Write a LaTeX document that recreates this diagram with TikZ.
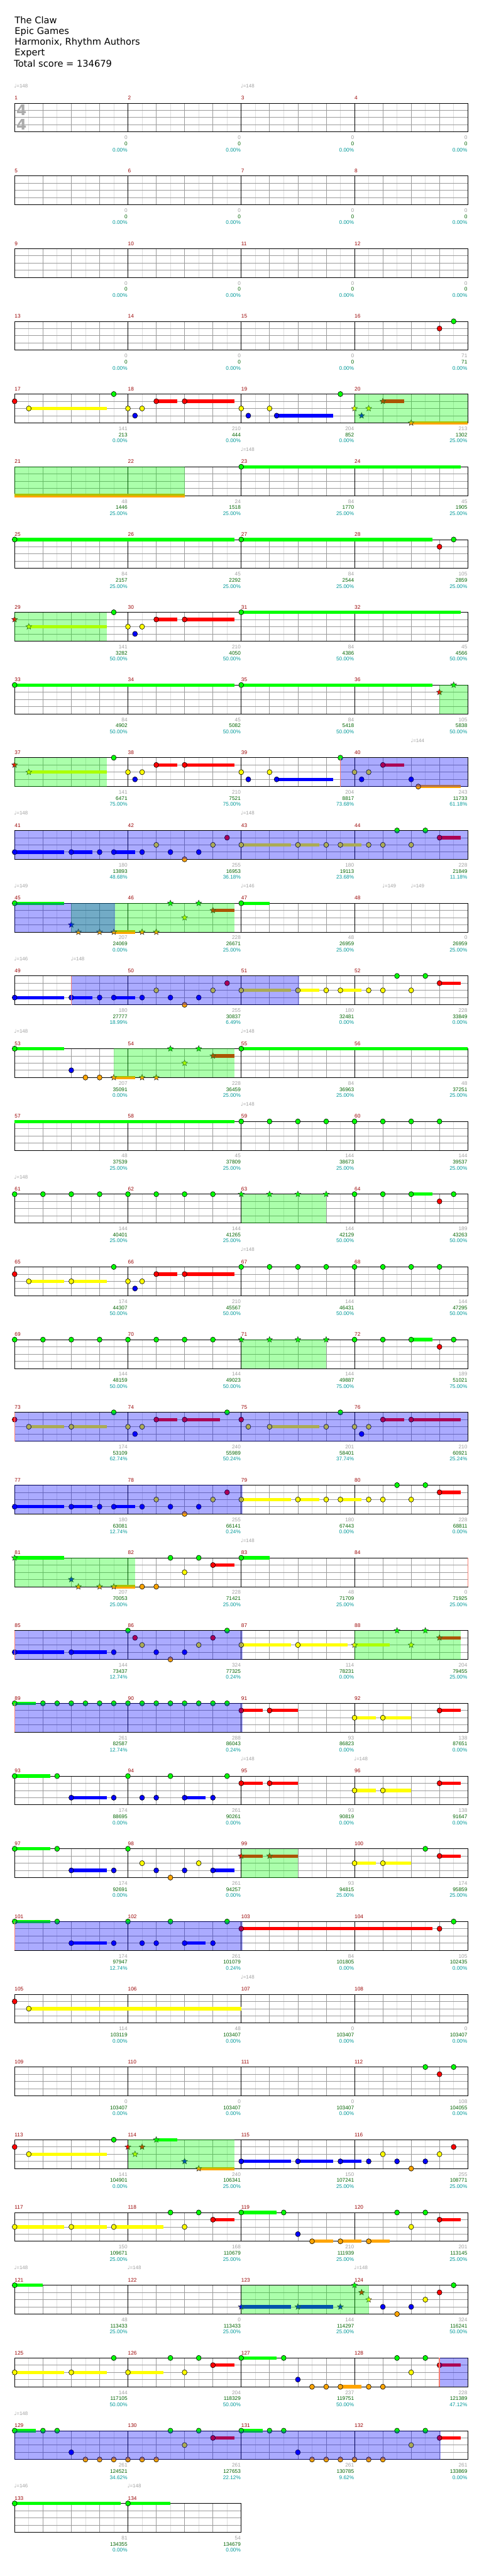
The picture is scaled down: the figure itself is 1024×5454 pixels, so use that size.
\documentclass[tikz,border=0pt]{standalone}
\usepackage{fontspec}
\setmainfont{DejaVu Sans}
\newfontfamily\smallfont{Liberation Sans}
\usetikzlibrary{shapes.geometric}

\definecolor{cG}{RGB}{0,255,0}
\definecolor{cR}{RGB}{255,0,0}
\definecolor{cY}{RGB}{255,255,0}
\definecolor{cB}{RGB}{0,0,255}
\definecolor{cO}{RGB}{255,165,0}
\definecolor{numred}{RGB}{153,0,0}
\definecolor{scgray}{RGB}{160,160,160}
\definecolor{scgreen}{RGB}{0,100,0}
\definecolor{scteal}{RGB}{0,153,153}
\definecolor{gridgray}{RGB}{155,155,155}
\definecolor{gridlight}{RGB}{222,222,222}
\definecolor{salmon}{RGB}{250,128,114}

\tikzset{
  eighthline/.style={gridlight,line width=1pt},
  beatline/.style={gridgray,line width=1pt},
  laneline/.style={gridgray,line width=1pt},
  barline/.style={black,line width=1pt},
  gem/.style={draw=black,line width=0.8pt},
  stargem/.style={star,star points=5,star point ratio=2.2,draw=black!80,
    line width=0.7pt,inner sep=0pt,minimum size=13pt},
  spzone/.style={fill=cG,fill opacity=0.33},
  odzone/.style={fill=cB,fill opacity=0.33},
  odstart/.style={salmon,line width=2pt},
  measnum/.style={font=\smallfont\fontsize{11}{11}\selectfont,text=numred,
    inner sep=0pt,anchor=base west},
  scoretxt/.style={font=\smallfont\fontsize{11}{11}\selectfont,inner sep=0pt,
    anchor=base east},
  tempotxt/.style={font=\fontsize{10.5}{10.5}\selectfont,text=scgray,
    inner sep=0pt,anchor=base west},
  titletxt/.style={font=\fontsize{19.5}{23}\selectfont,inner sep=0pt,
    anchor=base west},
  timesig/.style={font=\bfseries\fontsize{31}{31}\selectfont,text=black!33,
    inner sep=0pt,anchor=base west}
}

% lane -> colour
\newcommand\lanecol[1]{\ifcase#1 cG\or cR\or cY\or cB\or cO\fi}
% measure, eighth, lane -> \gx,\gy
\newcommand\getxy[3]{%
  \pgfmathsetmacro\gx{31+mod(#1-1,4)*240+#2*30}%
  \pgfmathsetmacro\gy{218.3+floor((#1-1)/4)*154+#3*15.25}}
\newcommand\measuregrid[1]{%
  \getxy{#1}{0}{0}%
  \foreach \k in {1,3,5,7} \draw[eighthline] (\gx+\k*30,\gy) -- ++(0,61);
  \foreach \k in {2,4,6} \draw[beatline] (\gx+\k*30,\gy) -- ++(0,61);
  \foreach \k in {1,2,3} \draw[laneline] (\gx,\gy+\k*15.25) -- ++(240,0);
  \draw[barline] (\gx,\gy) rectangle ++(240,61);
  \node[measnum] (num#1) at (\gx,\gy-7) {#1};}
\newcommand\gem[3]{\getxy{#1}{#2}{#3}\edef\gcol{\lanecol{#3}}%
  \filldraw[gem,fill=\gcol] (\gx,\gy) ellipse (5.2pt and 5.5pt);}
\newcount\starno
\newcommand\stnote[3]{\getxy{#1}{#2}{#3}\edef\gcol{\lanecol{#3}}%
  \global\advance\starno by 1
  \node[stargem,fill=\gcol] (star\the\starno) at (\gx,\gy) {};}
\newcommand\tail[4]{\getxy{#1}{#2}{#4}\edef\gcol{\lanecol{#4}}%
  \fill[\gcol] (\gx,\gy-3.5) rectangle (\gx+#3*30-#2*30,\gy+3.5);}
\newcommand\zone[4]{\getxy{#2}{#3}{0}%
  \fill[#1] (\gx,\gy) rectangle (\gx+#4*30-#3*30,\gy+61);}

\begin{document}
\begin{tikzpicture}[x=1pt,y=-1pt]
\fill[white] (0,0) rectangle (1024,5454);
\useasboundingbox (0,0) rectangle (1024,5454);

\node[titletxt] (song) at (31,49.3) {The Claw};
\node[titletxt] (artist) at (31,72.3) {Epic Games};
\node[titletxt] (charter) at (31,95.7) {Harmonix, Rhythm Authors};
\node[titletxt] (level) at (31,118.3) {Expert};
\node[titletxt] (total) at (29.5,141.7) {Total score = 134679};

% grid
\foreach \meas in {1,...,134} {\measuregrid{\meas}}
\node[timesig] (tsigA) at (34.5,245) {4};
\node[timesig] (tsigB) at (34.5,275) {4};

% sustains
\foreach \meas/\sub/\till/\lane in {
  17/1/6.5/2, 18/2/3.5/1, 18/4/7.5/1, 19/2.5/6.5/3, 20/2/3.5/1, 20/4/8/4,
  21/0/12/4, 23/0/15.5/0,
  25/0/15.5/0, 27/0/13.5/0,
  29/1/6.5/2, 30/2/3.5/1, 30/4/7.5/1, 31/0/15.5/0,
  33/0/15.5/0, 35/0/13.5/0,
  37/1/6.5/2, 38/2/3.5/1, 38/4/7.5/1, 39/2.5/6.5/3, 40/2/3.5/1, 40/4.5/7.5/4,
  41/0/3.5/3, 41/4/5.5/3, 41/7/8.5/3, 43/0/3.5/2, 43/4/5.5/2, 43/7/8.5/2, 44/6/7.5/1,
  45/0/3.5/0, 45/7/8.5/4, 46/6/7.5/1, 47/0/2/0,
  49/0/3.5/3, 49/4/5.5/3, 49/7/8.5/3, 51/0/3.5/2, 51/4/5.5/2, 51/7/8.5/2, 52/6/7.5/1,
  53/0/3.5/0, 53/7/8.5/4, 54/6/7.5/1, 55/0/16/0,
  57/0/15.5/0,
  64/4/5.5/0,
  65/1/3.5/2, 65/4/6.5/2, 66/2/3.5/1, 66/4/7.5/1,
  72/4/5.5/0,
  73/1/3.5/2, 73/4/6.5/2, 74/2/3.5/1, 74/4/6.5/1, 75/2/5.5/2, 76/2/3.5/1, 76/4/7.5/1,
  77/0/3.5/3, 77/4/5.5/3, 77/7/8.5/3, 79/0/3.5/2, 79/4/5.5/2, 79/7/8.5/2, 80/6/7.5/1,
  81/0/3.5/0, 81/7/8.5/4, 82/6/7.5/1, 83/0/2/0,
  85/0/3.5/3, 85/4/6.5/3, 87/0/3.5/2, 87/4/7.5/2, 88/0/2.5/2, 88/6/7.5/1,
  89/0/1.5/0, 91/0/1.5/1, 91/2/4/1, 92/0/1.5/2, 92/2/4/2, 92/6/7.5/1,
  93/0/2.5/0, 93/4/6.5/3, 94/4/5.5/3, 95/0/1.5/1, 95/2/4/1, 96/0/1.5/2, 96/2/4/2, 96/6/7.5/1,
  97/0/2.5/0, 97/4/6.5/3, 98/6/7.5/3, 99/0/1.5/1, 99/2/4/1, 100/0/1.5/2, 100/2/4/2, 100/6/7.5/1,
  101/0/2.5/0, 101/4/6.5/3, 102/4/5.5/3, 103/0/13.5/1,
  105/1/16/2,
  113/1/6.5/2, 114/2/3.5/0, 114/5/7.5/4, 115/0/3.5/3, 115/4/6.5/3, 115/7/8.5/3,
  117/0/3.5/2, 117/4/6.5/2, 117/7/10.5/2, 118/6/7.5/1, 119/0/2.5/0, 119/5/6.5/4,
  119/7/8.5/4, 120/1/2.5/4, 120/6/7.5/1,
  121/0/2/0, 123/0/3.5/3, 123/4/6.5/3,
  125/0/3.5/2, 125/4/6.5/2, 126/0/2.5/2, 126/6/7.5/1, 127/0/2.5/0, 127/7/8.5/4, 128/6/7.5/1,
  129/0/1.5/0, 130/6/7.5/1, 131/0/1.5/0, 132/6/7.5/1,
  133/0/7.5/0, 134/0/3/0}
  {\tail{\meas}{\sub}{\till}{\lane}}

% notes
\foreach \meas/\sub/\lane in {
  16/6/1, 16/7/0,
  17/0/1, 17/1/2, 17/7/0, 18/0/2, 18/0.5/3, 18/1/2, 18/2/1, 18/4/1,
  19/0/2, 19/0.5/3, 19/2/2, 19/2.5/3, 19/7/0,
  23/0/0, 25/0/0, 27/0/0, 28/6/1, 28/7/0,
  29/7/0, 30/0/2, 30/0.5/3, 30/1/2, 30/2/1, 30/4/1, 31/0/0,
  33/0/0, 35/0/0,
  37/7/0, 38/0/2, 38/0.5/3, 38/1/2, 38/2/1, 38/4/1, 39/0/2, 39/0.5/3, 39/2/2, 39/2.5/3,
  39/7/0, 40/0/2, 40/0.5/3, 40/1/2, 40/2/1, 40/4/3, 40/4.5/4,
  41/0/3, 41/4/3, 41/6/3, 41/7/3, 42/1/3, 42/2/2, 42/3/3, 42/4/4, 42/5/3, 42/6/2, 42/7/1,
  43/0/2, 43/4/2, 43/6/2, 43/7/2, 44/1/2, 44/2/2, 44/3/0, 44/4/2, 44/5/0, 44/6/1,
  45/0/0, 47/0/0,
  49/0/3, 49/4/3, 49/6/3, 49/7/3, 50/1/3, 50/2/2, 50/3/3, 50/4/4, 50/5/3, 50/6/2, 50/7/1,
  51/0/2, 51/4/2, 51/6/2, 51/7/2, 52/1/2, 52/2/2, 52/3/0, 52/4/2, 52/5/0, 52/6/1,
  53/0/0, 53/4/3, 53/5/4, 53/6/4, 55/0/0,
  59/0/0, 59/2/0, 59/4/0, 59/6/0, 60/0/0, 60/2/0, 60/4/0, 60/6/0,
  61/0/0, 61/2/0, 61/4/0, 61/6/0, 62/0/0, 62/2/0, 62/4/0, 62/6/0,
  64/0/0, 64/2/0, 64/4/0, 64/6/1, 64/7/0,
  65/0/1, 65/1/2, 65/4/2, 65/7/0, 66/0/2, 66/0.5/3, 66/1/2, 66/2/1, 66/4/1,
  67/0/0, 67/2/0, 67/4/0, 67/6/0, 68/0/0, 68/2/0, 68/4/0, 68/6/0,
  69/0/0, 69/2/0, 69/4/0, 69/6/0, 70/0/0, 70/2/0, 70/4/0, 70/6/0,
  72/0/0, 72/2/0, 72/4/0, 72/6/1, 72/7/0,
  73/0/1, 73/1/2, 73/4/2, 73/7/0, 74/0/2, 74/0.5/3, 74/1/2, 74/2/1, 74/4/1, 74/7/0,
  75/0/1, 75/0.5/2, 75/2/2, 75/6/2, 75/7/0, 76/0/2, 76/0.5/3, 76/1/2, 76/2/1, 76/4/1,
  77/0/3, 77/4/3, 77/6/3, 77/7/3, 78/1/3, 78/2/2, 78/3/3, 78/4/4, 78/5/3, 78/6/2, 78/7/1,
  79/0/2, 79/4/2, 79/6/2, 79/7/2, 80/1/2, 80/2/2, 80/3/0, 80/4/2, 80/5/0, 80/6/1,
  82/1/4, 82/2/4, 82/3/0, 82/4/2, 82/5/0, 82/6/1, 83/0/0,
  85/0/3, 85/4/3, 85/7/3, 86/0/0, 86/0.5/1, 86/1/2, 86/2/3, 86/3/4, 86/4/3, 86/5/2,
  86/6/1, 86/7/0, 87/0/2, 87/4/2,
  89/0/0, 89/2/0, 89/3/0, 89/4/0, 89/5/0, 89/6/0, 89/7/0,
  90/0/0, 90/1/0, 90/2/0, 90/3/0, 90/4/0, 90/5/0, 90/6/0, 90/7/0,
  91/0/1, 91/2/1, 92/0/2, 92/2/2, 92/6/1,
  93/0/0, 93/3/0, 93/4/3, 93/7/3, 94/0/0, 94/1/3, 94/2/3, 94/3/0, 94/4/3, 94/6/3, 94/7/0,
  95/0/1, 95/2/1, 96/0/2, 96/2/2, 96/6/1,
  97/0/0, 97/3/0, 97/4/3, 97/7/3, 98/0/0, 98/1/2, 98/2/3, 98/3/4, 98/4/3, 98/5/2, 98/6/3,
  100/0/2, 100/2/2, 100/5/0, 100/6/1,
  101/0/0, 101/3/0, 101/4/3, 101/7/3, 102/0/0, 102/1/3, 102/2/3, 102/3/0, 102/4/3,
  102/6/3, 102/7/0, 103/0/1, 104/6/1, 104/7/0,
  105/0/1, 105/1/2,
  112/5/0, 112/6/1, 112/7/0,
  113/0/1, 113/1/2, 113/7/0, 115/0/3, 115/4/3, 115/7/3,
  116/1/3, 116/2/2, 116/3/3, 116/4/4, 116/5/3, 116/6/2, 116/7/1,
  117/0/2, 117/4/2, 117/7/2, 118/3/0, 118/4/2, 118/5/0, 118/6/1,
  119/0/0, 119/3/0, 119/4/3, 119/5/4, 119/7/4, 120/1/4, 120/3/0, 120/4/2, 120/5/0, 120/6/1,
  121/0/0, 124/2/3, 124/3/4, 124/4/3, 124/5/2, 124/6/1, 124/7/0,
  125/0/2, 125/4/2, 125/7/0, 126/0/2, 126/3/0, 126/4/2, 126/5/0, 126/6/1,
  127/0/0, 127/3/0, 127/4/3, 127/5/4, 127/6/4, 127/7/4,
  128/1/4, 128/2/4, 128/3/0, 128/4/2, 128/5/0, 128/6/1,
  129/0/0, 129/2/0, 129/3/0, 129/4/3, 129/5/4, 129/6/4, 129/7/4,
  130/0/4, 130/1/4, 130/2/4, 130/3/0, 130/4/2, 130/5/0, 130/6/1,
  131/0/0, 131/2/0, 131/3/0, 131/4/3, 131/5/4, 131/6/4, 131/7/4,
  132/0/4, 132/1/4, 132/2/4, 132/3/0, 132/4/2, 132/5/0, 132/6/1,
  133/0/0, 134/0/0}
  {\gem{\meas}{\sub}{\lane}}

% star notes
\foreach \meas/\sub/\lane in {
  20/0/2, 20/0.5/3, 20/1/2, 20/2/1, 20/4/4,
  29/0/1, 29/1/2, 36/6/1, 36/7/0, 37/0/1, 37/1/2,
  45/4/3, 45/4.5/4, 45/6/4, 45/7/4, 46/1/4, 46/2/4, 46/3/0, 46/4/2, 46/5/0, 46/6/1,
  53/7/4, 54/1/4, 54/2/4, 54/3/0, 54/4/2, 54/5/0, 54/6/1,
  63/0/0, 63/2/0, 63/4/0, 63/6/0, 71/0/0, 71/2/0, 71/4/0, 71/6/0,
  81/0/0, 81/4/3, 81/4.5/4, 81/6/4, 81/7/4,
  88/0/2, 88/3/0, 88/4/2, 88/5/0, 88/6/1,
  99/0/1, 99/2/1,
  114/0/1, 114/0.5/2, 114/1/1, 114/2/0, 114/4/3, 114/5/4,
  123/0/3, 123/4/3, 123/7/3, 124/0/0, 124/0.5/1, 124/1/2}
  {\stnote{\meas}{\sub}{\lane}}

% star power and overdrive zones
\foreach \meas/\sub/\till in {20/0/8, 21/0/12, 29/0/6.5, 36/6/8, 37/0/6.5, 45/4/15.5,
  53/7/15.5, 63/0/6, 71/0/6, 81/0/8.5, 88/0/7.5, 99/0/4, 114/0/7.5, 123/0/9}
  {\zone{spzone}{\meas}{\sub}{\till}}
\foreach \meas/\sub/\till in {39/7/16, 41/0/32, 45/0/7.1, 49/4/20.1, 73/0/32, 77/0/16.1,
  85/0/16.1, 89/0/16.1, 101/0/16.1, 128/6/8, 129/0/30.1}
  {\zone{odzone}{\meas}{\sub}{\till}}
\foreach \meas/\sub in {39/7, 49/4, 73/0, 84/8, 85/0, 89/0, 101/0, 128/6}
  {\getxy{\meas}{\sub}{0}\draw[odstart] (\gx,\gy) -- ++(0,61);}

% tempo marks
\foreach \meas/\sub/\bpm [count=\i] in {1/0/148, 3/0/148, 23/0/148, 40/4/144, 41/0/148,
  43/0/148, 45/0/149, 47/0/146, 48/2/149, 48/4/149, 49/0/146, 49/4/148, 53/0/148,
  55/0/148, 59/0/148, 61/0/148, 67/0/148, 83/0/148, 95/0/148, 96/0/148, 107/0/148,
  121/0/148, 122/0/148, 124/0/148, 129/0/148, 133/0/146, 134/0/148}
  {\getxy{\meas}{\sub}{0}
   \node[tempotxt] (tempo\i) at (\gx-1,\gy-33) {♩{\smallfont=\bpm}};}

% scores
\foreach \meas/\pts/\sum/\pct in {
  1/0/0/0.00, 2/0/0/0.00, 3/0/0/0.00, 4/0/0/0.00, 5/0/0/0.00, 6/0/0/0.00,
  7/0/0/0.00, 8/0/0/0.00, 9/0/0/0.00, 10/0/0/0.00, 11/0/0/0.00, 12/0/0/0.00,
  13/0/0/0.00, 14/0/0/0.00, 15/0/0/0.00, 16/71/71/0.00,
  17/141/213/0.00, 18/210/444/0.00, 19/204/852/0.00, 20/213/1302/25.00,
  21/48/1446/25.00, 22/24/1518/25.00, 23/84/1770/25.00, 24/45/1905/25.00,
  25/84/2157/25.00, 26/45/2292/25.00, 27/84/2544/25.00, 28/105/2859/25.00,
  29/141/3282/50.00, 30/210/4050/50.00, 31/84/4386/50.00, 32/45/4566/50.00,
  33/84/4902/50.00, 34/45/5082/50.00, 35/84/5418/50.00, 36/105/5838/50.00,
  37/141/6471/75.00, 38/210/7521/75.00, 39/204/8817/73.68, 40/243/11733/61.18,
  41/180/13893/48.68, 42/255/16953/36.18, 43/180/19113/23.68, 44/228/21849/11.18,
  45/207/24069/0.00, 46/228/26671/25.00, 47/48/26959/25.00, 48/0/26959/25.00,
  49/180/27777/18.99, 50/255/30837/6.49, 51/180/32481/0.00, 52/228/33849/0.00,
  53/207/35091/0.00, 54/228/36459/25.00, 55/84/36963/25.00, 56/48/37251/25.00,
  57/48/37539/25.00, 58/45/37809/25.00, 59/144/38673/25.00, 60/144/39537/25.00,
  61/144/40401/25.00, 62/144/41265/25.00, 63/144/42129/50.00, 64/189/43263/50.00,
  65/174/44307/50.00, 66/210/45567/50.00, 67/144/46431/50.00, 68/144/47295/50.00,
  69/144/48159/50.00, 70/144/49023/50.00, 71/144/49887/75.00, 72/189/51021/75.00,
  73/174/53109/62.74, 74/240/55989/50.24, 75/201/58401/37.74, 76/210/60921/25.24,
  77/180/63081/12.74, 78/255/66141/0.24, 79/180/67443/0.00, 80/228/68811/0.00,
  81/207/70053/25.00, 82/228/71421/25.00, 83/48/71709/25.00, 84/0/71925/25.00,
  85/144/73437/12.74, 86/324/77325/0.24, 87/114/78231/0.00, 88/204/79455/25.00,
  89/261/82587/12.74, 90/288/86043/0.24, 91/93/86823/0.00, 92/138/87651/0.00,
  93/174/88695/0.00, 94/261/90261/0.00, 95/93/90819/0.00, 96/138/91647/0.00,
  97/174/92691/0.00, 98/261/94257/0.00, 99/93/94815/25.00, 100/174/95859/25.00,
  101/174/97947/12.74, 102/261/101079/0.24, 103/84/101805/0.00, 104/105/102435/0.00,
  105/114/103119/0.00, 106/48/103407/0.00, 107/0/103407/0.00, 108/0/103407/0.00,
  109/0/103407/0.00, 110/0/103407/0.00, 111/0/103407/0.00, 112/108/104055/0.00,
  113/141/104901/0.00, 114/240/106341/25.00, 115/150/107241/25.00, 116/255/108771/25.00,
  117/150/109671/25.00, 118/168/110679/25.00, 119/210/111939/25.00, 120/201/113145/25.00,
  121/48/113433/25.00, 122/0/113433/25.00, 123/144/114297/25.00, 124/324/116241/50.00,
  125/144/117105/50.00, 126/204/118329/50.00, 127/237/119751/50.00, 128/228/121389/47.12,
  129/261/124521/34.62, 130/261/127653/22.12, 131/261/130785/9.62, 132/261/133869/0.00,
  133/81/134355/0.00, 134/54/134679/0.00}
  {\getxy{\meas}{8}{0}
   \node[scoretxt,text=scgray] (pts\meas) at (\gx-1,\gy+77) {\pts};
   \node[scoretxt,text=scgreen] (sum\meas) at (\gx-1,\gy+90) {\sum};
   \node[scoretxt,text=scteal] (pct\meas) at (\gx-1,\gy+102.7) {\pct\%};}
\end{tikzpicture}
\end{document}
